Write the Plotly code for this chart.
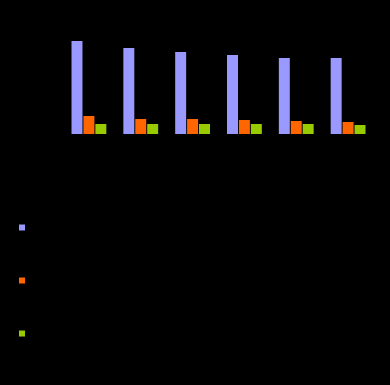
import plotly.graph_objects as go

categories = ["2017", "2018", "2019", "2020", "2021", "2022"]
series_names = ["Series A", "Series B", "Series C"]
series_a = [93, 86, 82, 79, 76, 76]
series_b = [18, 15, 15, 14, 13, 12]
series_c = [10, 10, 10, 10, 10, 9]
colors = ["#9999ff", "#ff6600", "#99cc00"]

fig = go.Figure()
for name, vals, col in zip(series_names, [series_a, series_b, series_c], colors):
    fig.add_trace(go.Bar(x=categories, y=vals, name=name, marker_color=col,
                         marker_line_width=0, showlegend=False))
for i, (name, col) in enumerate(zip(series_names, colors)):
    fig.add_trace(go.Scatter(x=[None], y=[None], mode="markers", name=name,
                             marker=dict(symbol="square", size=6, color=col),
                             legendgroup=f"g{i}", showlegend=True))

fig.update_layout(
    width=390, height=385,
    paper_bgcolor="#000000", plot_bgcolor="#000000",
    margin=dict(l=62.5, r=15.5, t=34, b=251, autoexpand=False),
    barmode="group", bargap=0.31, bargroupgap=0.08,
    font=dict(family="Liberation Sans, Arial", size=12, color="#000000"),
    xaxis=dict(showgrid=False, zeroline=False, showline=False, automargin=False,
               tickfont=dict(color="#000000")),
    yaxis=dict(range=[0, 100], showgrid=False, zeroline=False, showline=False,
               automargin=False, tickfont=dict(color="#000000")),
    legend=dict(xref="container", yref="container", x=2/390, y=1 - 213/385,
                xanchor="left", yanchor="top", tracegroupgap=34,
                bgcolor="rgba(0,0,0,0)", font=dict(color="#000000", size=12)),
)
fig.write_html("out.html", config={"displayModeBar": False},
               post_script="document.body.style.margin='0';document.body.style.background='#000';")
